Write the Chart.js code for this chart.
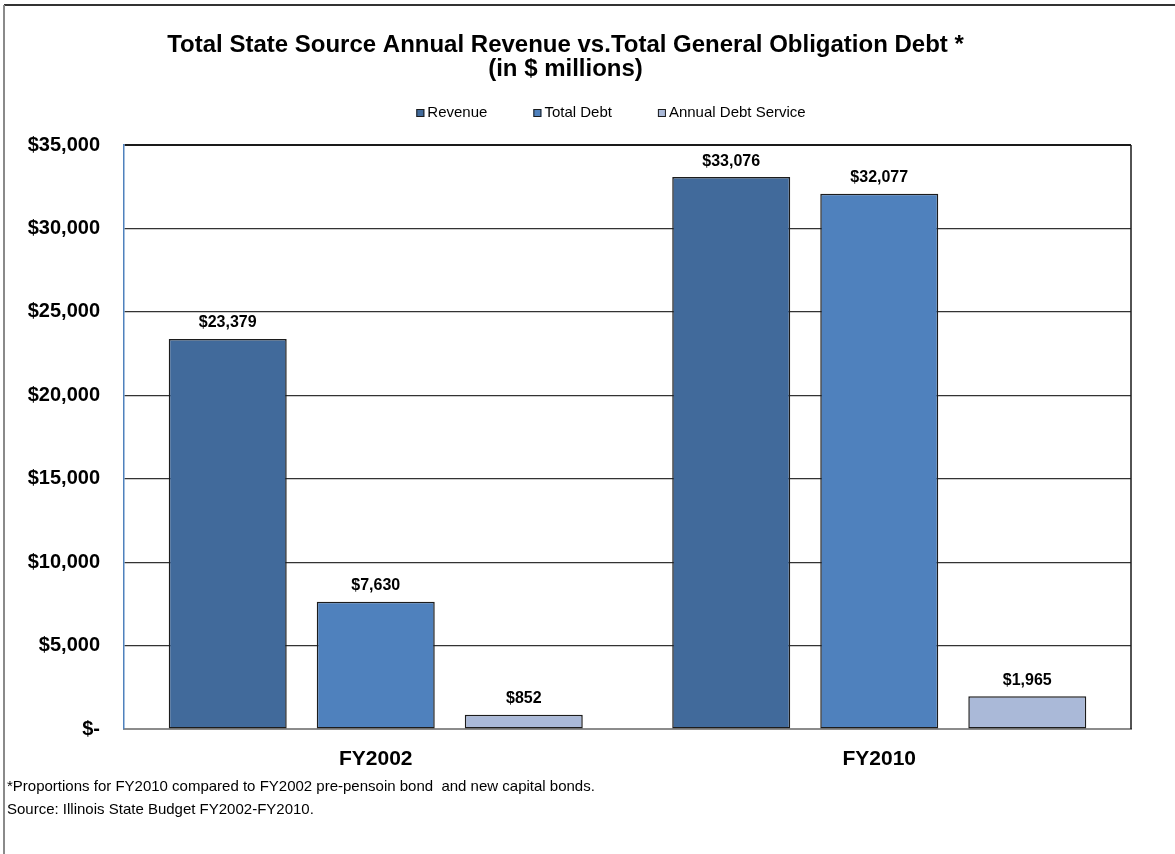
<!DOCTYPE html>
<html>
<head>
<meta charset="utf-8">
<title>State Revenue vs. General Obligation Debt</title>
<script src="https://cdn.jsdelivr.net/npm/chart.js@4.4.1/dist/chart.umd.min.js"></script>
<style>
  html, body { margin: 0; padding: 0; background: #ffffff; }
  canvas { display: block; }
</style>
</head>
<body>
<canvas id="myChart" width="1175" height="854"></canvas>
<script>
// fiscal years on the x axis
const years = ['FY2002', 'FY2010'];

// values in $ millions
const revenue = [23379, 33076];
const totalDebt = [7630, 32077];
const debtService = [852, 1965];

const yTicks = [0, 5000, 10000, 15000, 20000, 25000, 30000, 35000];

const footnotes = [
  '*Proportions for FY2010 compared to FY2002 pre-pensoin bond  and new capital bonds.',
  'Source: Illinois State Budget FY2002-FY2010.'
];

const FONT = "'Liberation Sans', Arial, sans-serif";

function money(v) {
  if (v === 0) return '$-';
  return '$' + v.toLocaleString('en-US');
}

// value labels over each bar
const barLabels = {
  id: 'barLabels',
  afterDatasetsDraw(chart) {
    const ctx = chart.ctx;
    ctx.save();
    ctx.font = 'bold 16px ' + FONT;
    ctx.fillStyle = '#000';
    ctx.textAlign = 'center';
    ctx.textBaseline = 'middle';
    chart.data.datasets.forEach((ds, i) => {
      chart.getDatasetMeta(i).data.forEach((bar, j) => {
        ctx.fillText(money(ds.data[j]), bar.x, bar.y - 16);
      });
    });
    ctx.restore();
  }
};

// one-row legend between the title and the plot
const legendRow = {
  id: 'legendRow',
  afterDraw(chart) {
    const ctx = chart.ctx;
    const box = 8, gap = 3, spacing = 46, cy = 113, cx = 611;
    ctx.save();
    ctx.font = '15px ' + FONT;
    const items = chart.data.datasets.map(ds => ({
      text: ds.label,
      color: ds.backgroundColor,
      w: ctx.measureText(ds.label).width
    }));
    let total = 0;
    items.forEach((it, i) => { total += box + gap + it.w + (i ? spacing : 0); });
    let x = cx - total / 2;
    ctx.textAlign = 'left';
    ctx.textBaseline = 'middle';
    items.forEach(it => {
      ctx.fillStyle = it.color;
      ctx.fillRect(x, cy - box / 2, box, box);
      ctx.strokeStyle = '#1c1c1c';
      ctx.lineWidth = 1;
      ctx.strokeRect(x + 0.5, cy - box / 2 + 0.5, box - 1, box - 1);
      ctx.fillStyle = '#000';
      ctx.fillText(it.text, x + box + gap, cy);
      x += box + gap + it.w + spacing;
    });
    ctx.restore();
  }
};

// outer frame, right edge of the plot, and the footnotes
const frame = {
  id: 'frame',
  afterDraw(chart) {
    const ctx = chart.ctx;
    const a = chart.chartArea;
    ctx.save();
    ctx.strokeStyle = '#1a1a1a';
    ctx.lineWidth = 1.5;
    ctx.beginPath();
    ctx.moveTo(a.right, a.top);
    ctx.lineTo(a.right, a.bottom);
    ctx.stroke();

    ctx.lineWidth = 2;
    ctx.strokeStyle = '#333';
    ctx.beginPath();
    ctx.moveTo(4, 5);
    ctx.lineTo(1175, 5);
    ctx.stroke();
    ctx.strokeStyle = '#8a8a8a';
    ctx.beginPath();
    ctx.moveTo(4, 5);
    ctx.lineTo(4, 854);
    ctx.stroke();

    ctx.font = '15px ' + FONT;
    ctx.fillStyle = '#000';
    ctx.textAlign = 'left';
    ctx.textBaseline = 'middle';
    ctx.fillText(footnotes[0], 7, 787);
    ctx.fillText(footnotes[1], 7, 810);
    ctx.restore();
  }
};

const data = {
  labels: years,
  datasets: [
    { label: 'Revenue', data: revenue, backgroundColor: '#416a9b' },
    { label: 'Total Debt', data: totalDebt, backgroundColor: '#4f81bd' },
    { label: 'Annual Debt Service', data: debtService, backgroundColor: '#aab9d8' }
  ]
};
data.datasets.forEach(ds => {
  ds.borderColor = '#1c1c1c';
  ds.borderWidth = 1.5;
  ds.borderSkipped = false;
  ds.categoryPercentage = 0.882;
  ds.barPercentage = 0.797;
});

const config = {
  type: 'bar',
  data: data,
  plugins: [barLabels, legendRow, frame],
  options: {
    responsive: false,
    animation: false,
    layout: { padding: { top: 0, left: 0, right: 44, bottom: 0 } },
    plugins: {
      tooltip: { enabled: false },
      legend: { display: false },
      title: {
        display: true,
        text: ['Total State Source Annual Revenue vs.Total General Obligation Debt *', '(in $ millions)'],
        color: '#000',
        font: { family: FONT, size: 24, weight: 'bold', lineHeight: '24px' },
        padding: { top: 33, bottom: 64 }
      }
    },
    scales: {
      x: {
        grid: { display: false, drawTicks: false },
        border: { color: '#8c8c8c', width: 2 },
        ticks: {
          color: '#000',
          font: { family: FONT, size: 21, weight: 'bold' },
          padding: 18
        },
        afterFit(scale) { scale.height = 125; }
      },
      y: {
        min: 0,
        max: 35000,
        afterBuildTicks(scale) { scale.ticks = yTicks.map(v => ({ value: v })); },
        grid: {
          drawTicks: false,
          color: ctx => ctx.tick && ctx.tick.value === 35000 ? '#1a1a1a' : '#333333',
          lineWidth: ctx => ctx.tick && ctx.tick.value === 35000 ? 2 : 1.2
        },
        border: { color: '#4f81bd', width: 1.5 },
        ticks: {
          color: '#000',
          font: { family: FONT, size: 20, weight: 'bold' },
          padding: 24,
          callback: v => money(v)
        },
        afterFit(scale) { scale.width = 124; }
      }
    }
  }
};

const myChart = new Chart(document.getElementById('myChart'), config);
</script>
</body>
</html>
